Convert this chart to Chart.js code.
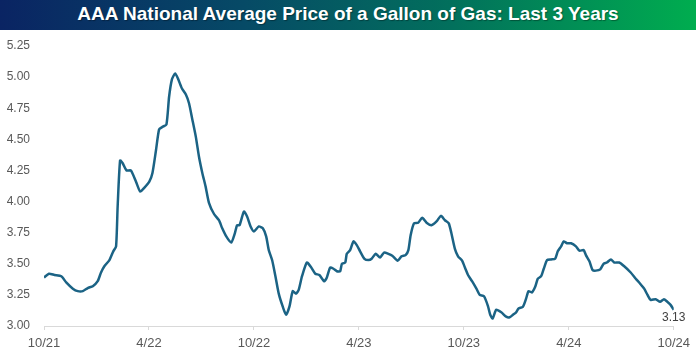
<!DOCTYPE html>
<html>
<head>
<meta charset="utf-8">
<script src="https://cdn.jsdelivr.net/npm/chart.js@4/dist/chart.umd.min.js"></script>
<style>
  html, body { margin: 0; padding: 0; background: #fff; }
  #wrap { position: relative; width: 696px; height: 351px; overflow: hidden; }
  #title {
    position: absolute; left: 0; top: 0; width: 696px; height: 30px;
    background: linear-gradient(to right, #0a2463 0%, #064a66 35%, #02705c 65%, #00ad4f 100%);
    color: #fff; text-align: center; line-height: 27px;
    font-family: "Liberation Sans", Arial, sans-serif;
    font-size: 19px; font-weight: bold;
    text-shadow: 1px 1px 1px rgba(0,0,0,0.35);
    z-index: 2;
  }
  canvas { position: absolute; left: 0; top: 0; }
</style>
</head>
<body>
<div id="wrap">
  <div id="title">AAA National Average Price of a Gallon of Gas: Last 3 Years</div>
  <canvas id="c" width="696" height="351"></canvas>
</div>
<script>
// months elapsed since Oct 2021
const monthsSinceStart = [
  0.00,0.28,0.60,0.99,1.27,1.65,1.93,2.22,2.50,2.79,3.07,3.26,3.45,3.74,3.96,4.12,4.21,4.35,4.49,4.72,
  4.97,5.26,5.50,5.73,6.02,6.20,6.40,6.58,6.77,7.00,7.15,7.31,7.50,7.68,7.88,8.11,8.29,8.48,8.68,8.86,
  9.05,9.24,9.43,9.72,10.00,10.19,10.42,10.70,10.91,11.04,11.18,11.43,11.61,11.81,12.00,12.28,12.51,12.70,12.85,13.04,
  13.23,13.42,13.65,13.84,14.03,14.22,14.41,14.56,14.75,15.03,15.28,15.51,15.74,16.02,16.17,16.36,16.55,16.74,16.93,17.03,
  17.22,17.31,17.50,17.69,17.88,18.07,18.32,18.55,18.73,18.96,19.21,19.44,19.69,19.91,20.22,20.44,20.67,20.83,20.96,21.15,
  21.39,21.62,21.87,22.15,22.44,22.69,22.92,23.14,23.29,23.49,23.67,23.90,24.09,24.24,24.47,24.72,24.91,25.15,25.38,25.51,
  25.65,25.85,26.14,26.42,26.62,26.81,26.99,27.13,27.38,27.56,27.70,27.89,28.08,28.23,28.42,28.57,28.76,28.99,29.22,29.37,
  29.56,29.71,29.90,30.13,30.41,30.61,30.85,30.98,31.18,31.36,31.55,31.80,31.99,32.18,32.41,32.60,32.88,33.17,33.54,33.83,
  34.08,34.31,34.50,34.68,34.97,35.22,35.44,35.63,35.82,36.00
];
// AAA national average regular gasoline price, $/gallon
const gasPrice = [
  3.39,3.42,3.41,3.40,3.35,3.30,3.28,3.28,3.305,3.32,3.36,3.43,3.48,3.53,3.60,3.64,3.96,4.33,4.31,4.25,
  4.25,4.16,4.08,4.11,4.16,4.23,4.41,4.58,4.60,4.62,4.84,4.98,5.03,4.98,4.91,4.86,4.79,4.66,4.52,4.36,
  4.23,4.12,3.99,3.90,3.85,3.785,3.72,3.67,3.745,3.81,3.81,3.92,3.88,3.80,3.76,3.80,3.785,3.72,3.61,3.53,
  3.40,3.26,3.155,3.09,3.155,3.28,3.26,3.29,3.40,3.51,3.47,3.42,3.41,3.36,3.39,3.47,3.46,3.44,3.44,3.50,
  3.51,3.58,3.61,3.68,3.65,3.60,3.54,3.53,3.54,3.58,3.55,3.59,3.58,3.565,3.525,3.56,3.57,3.61,3.73,3.825,
  3.83,3.87,3.83,3.81,3.84,3.885,3.85,3.825,3.745,3.62,3.56,3.525,3.46,3.41,3.36,3.30,3.25,3.24,3.16,3.09,
  3.06,3.13,3.11,3.075,3.07,3.09,3.11,3.14,3.155,3.22,3.28,3.27,3.315,3.38,3.40,3.46,3.53,3.535,3.54,3.60,
  3.64,3.68,3.665,3.665,3.64,3.605,3.61,3.57,3.52,3.45,3.445,3.455,3.50,3.51,3.535,3.51,3.51,3.48,3.43,3.38,
  3.34,3.30,3.25,3.21,3.215,3.195,3.215,3.195,3.17,3.13
];
const xTickLabels = ['10/21','4/22','10/22','4/23','10/23','4/24','10/24'];
const yTicks = [3.00,3.25,3.50,3.75,4.00,4.25,4.50,4.75,5.00,5.25];
const lastLabel = '3.13';

const points = monthsSinceStart.map((m, i) => ({ x: m, y: gasPrice[i] }));

const endLabelPlugin = {
  id: 'endLabel',
  afterDatasetsDraw(chart) {
    const meta = chart.getDatasetMeta(0);
    const p = meta.data[meta.data.length - 1];
    const ctx = chart.ctx;
    ctx.save();
    ctx.font = '12px "Liberation Sans", Arial, sans-serif';
    ctx.fillStyle = '#404040';
    ctx.textAlign = 'center';
    ctx.textBaseline = 'middle';
    ctx.fillText(lastLabel, p.x, p.y + 8);
    ctx.restore();
  }
};

new Chart(document.getElementById('c'), {
  type: 'line',
  data: {
    datasets: [{
      data: points,
      borderColor: '#1b6385',
      borderWidth: 2.5,
      pointRadius: 0,
      tension: 0.2,
      fill: false
    }]
  },
  options: {
    responsive: false,
    animation: false,
    layout: { padding: { top: 46, right: 19, left: 0, bottom: 0 } },
    plugins: { legend: { display: false }, tooltip: { enabled: false }, title: { display: false } },
    scales: {
      x: {
        type: 'linear',
        min: 0, max: 36,
        afterBuildTicks: (s) => { s.ticks = xTickLabels.map((_, i) => ({ value: i * 6 })); },
        afterFit: (s) => { s.height = 25; },
        ticks: {
          callback: (v) => xTickLabels[Math.round(v / 6)],
          color: '#595959',
          font: { family: '"Liberation Sans", Arial, sans-serif', size: 13 },
          padding: 6,
          maxRotation: 0, autoSkip: false
        },
        grid: { drawOnChartArea: false, drawTicks: true, tickLength: 4, color: '#d9d9d9' },
        border: { display: true, color: '#d9d9d9', width: 1 }
      },
      y: {
        min: 3, max: 5.25,
        afterBuildTicks: (s) => { s.ticks = yTicks.map(v => ({ value: v })); },
        afterFit: (s) => { s.width = 44; },
        ticks: {
          callback: (v) => v.toFixed(2),
          color: '#595959',
          font: { family: '"Liberation Sans", Arial, sans-serif', size: 12 },
          padding: 14
        },
        grid: { display: false, drawTicks: false },
        border: { display: false }
      }
    }
  },
  plugins: [endLabelPlugin]
});
</script>
</body>
</html>
